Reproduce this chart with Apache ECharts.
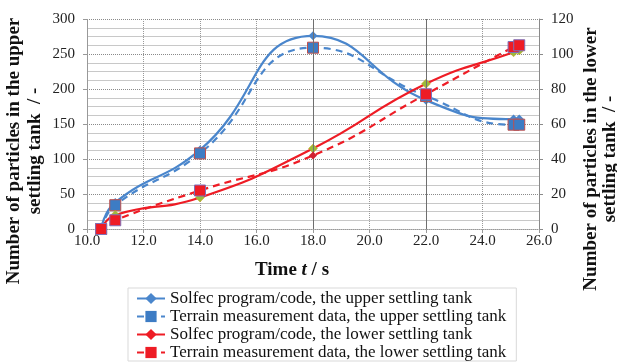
<!DOCTYPE html>
<html>
<head>
<meta charset="utf-8">
<script src="https://cdn.jsdelivr.net/npm/echarts@6/dist/echarts.min.js"></script>
<style>
  html, body { margin: 0; padding: 0; background: #fff; }
  #chart { width: 617px; height: 362px; }
</style>
</head>
<body>
<div id="chart"></div>
<script>
// time (s) for each sample
const times = [10.5, 11.0, 14.0, 18.0, 22.0, 25.1, 25.3];
// upper settling tank (left axis)
const upperSolfec = [0, 38, 113, 276, 184, 157, 157];
const upperMeasured = [0, 34, 108, 259, 190, 149, 149];
// lower settling tank (right axis)
const lowerSolfec = [0, 8, 18, 46, 83, 101, 102];
const lowerMeasured = [0, 5, 22, 42, 77, 104, 105];
const refTimes = [18, 22];

const names = [
  "Solfec program/code, the upper settling tank",
  "Terrain measurement data, the upper settling tank",
  "Solfec program/code, the lower settling tank",
  "Terrain measurement data, the lower settling tank"
];

const BLUE = "#4A86CC";
const RED = "#EE1C25";
const FONT = "Liberation Serif";

const pairs = (ys) => times.map((t, i) => [t, ys[i]]);

const chart = echarts.init(document.getElementById("chart"));
chart.setOption({
  animation: false,
  backgroundColor: "#fff",
  textStyle: { fontFamily: FONT },
  grid: { left: 87, right: 78, top: 19, bottom: 133 },
  legend: {
    orient: "vertical",
    left: 128,
    top: 288,
    height: 90,
    itemWidth: 28,
    itemHeight: 14,
    itemGap: 1,
    padding: [2, 10, 0, 8],
    borderColor: "#d9d9d9",
    borderWidth: 1,
    textStyle: { fontFamily: FONT, fontSize: 17, color: "#111" },
    data: [
      { name: names[0] },
      { name: names[1], itemStyle: { borderWidth: 0 } },
      { name: names[2], itemStyle: { color: RED, borderWidth: 0 } },
      { name: names[3], itemStyle: { borderWidth: 0 } }
    ]
  },
  xAxis: {
    type: "value",
    min: 10,
    max: 26,
    interval: 2,
    axisLine: { lineStyle: { color: "#999", type: "dotted" } },
    axisTick: { show: true, length: 4, lineStyle: { color: "#999" } },
    axisLabel: {
      color: "#222", fontSize: 15, fontFamily: FONT, margin: 5,
      formatter: (v) => v.toFixed(1)
    },
    splitLine: { show: true, lineStyle: { color: "#999", type: "dotted" } }
  },
  yAxis: [
    {
      type: "value",
      min: 0,
      max: 300,
      interval: 50,
      axisLine: { show: true, lineStyle: { color: "#999", type: "dotted" } },
      axisTick: { show: true, length: 4, lineStyle: { color: "#999" } },
      axisLabel: { color: "#222", fontSize: 15, fontFamily: FONT, margin: 12 },
      splitLine: { show: true, lineStyle: { color: "#8a8a8a", type: "dotted" } },
      minorTick: { show: false, splitNumber: 4 },
      minorSplitLine: { show: true, lineStyle: { color: "#c8c8c8" } }
    },
    {
      type: "value",
      min: 0,
      max: 120,
      interval: 20,
      position: "right",
      axisLine: { show: true, lineStyle: { color: "#8a8a8a" } },
      axisTick: { show: true, length: 4, lineStyle: { color: "#8a8a8a" } },
      axisLabel: { color: "#222", fontSize: 15, fontFamily: FONT, margin: 12 },
      splitLine: { show: false }
    }
  ],
  graphic: [
    {
      type: "text",
      x: 25, y: 151, rotation: Math.PI / 2,
      style: {
        text: "Number of particles in the upper\nsettling tank  / -",
        font: "bold 19px 'Liberation Serif'",
        fill: "#111", align: "center", verticalAlign: "middle", lineHeight: 21
      }
    },
    {
      type: "text",
      x: 601, y: 159, rotation: Math.PI / 2,
      style: {
        text: "Number of particles in the lower\nsettling tank  / -",
        font: "bold 19px 'Liberation Serif'",
        fill: "#111", align: "center", verticalAlign: "middle", lineHeight: 19
      }
    },
    {
      type: "text",
      x: 292, y: 270,
      style: {
        text: "{b|Time }{i|t}{b| / s}",
        align: "center", verticalAlign: "middle",
        rich: {
          b: { font: "bold 19px 'Liberation Serif'", fill: "#111" },
          i: { font: "italic bold 19px 'Liberation Serif'", fill: "#111" }
        }
      }
    }
  ],
  series: [
    {
      name: names[0],
      type: "line",
      yAxisIndex: 0,
      smooth: 0.5,
      data: pairs(upperSolfec),
      symbol: "diamond",
      symbolSize: 9,
      lineStyle: { color: BLUE, width: 2.2 },
      itemStyle: { color: BLUE },
      markLine: {
        silent: true,
        symbol: "none",
        label: { show: false },
        lineStyle: { color: "#6f6f6f", type: "solid", width: 1 },
        data: refTimes.map((t) => ({ xAxis: t }))
      },
      z: 2
    },
    {
      name: names[1],
      type: "line",
      yAxisIndex: 0,
      smooth: 0.5,
      data: pairs(upperMeasured),
      symbol: "rect",
      symbolSize: 11,
      lineStyle: { color: BLUE, width: 2.2, type: [7, 5] },
      itemStyle: { color: "#3D7CC4", borderColor: "#C0504D", borderWidth: 1 },
      z: 3
    },
    {
      name: names[2],
      type: "line",
      yAxisIndex: 1,
      smooth: 0.5,
      data: pairs(lowerSolfec),
      symbol: "diamond",
      symbolSize: 9,
      lineStyle: { color: RED, width: 2.2 },
      itemStyle: { color: "#9BBB3B", borderColor: "#D9A020", borderWidth: 0.5 },
      z: 4
    },
    {
      name: names[3],
      type: "line",
      yAxisIndex: 1,
      smooth: 0.5,
      data: pairs(lowerMeasured).map((p) =>
        p[0] === 18 ? { value: p, symbol: "diamond", symbolSize: 8, itemStyle: { color: "#D02030", borderWidth: 0 } } : p
      ),
      symbol: "rect",
      symbolSize: 11,
      lineStyle: { color: RED, width: 2.2, type: [7, 5] },
      itemStyle: { color: RED, borderColor: "#7F6FB8", borderWidth: 1 },
      z: 5
    }
  ]
});
</script>
</body>
</html>
